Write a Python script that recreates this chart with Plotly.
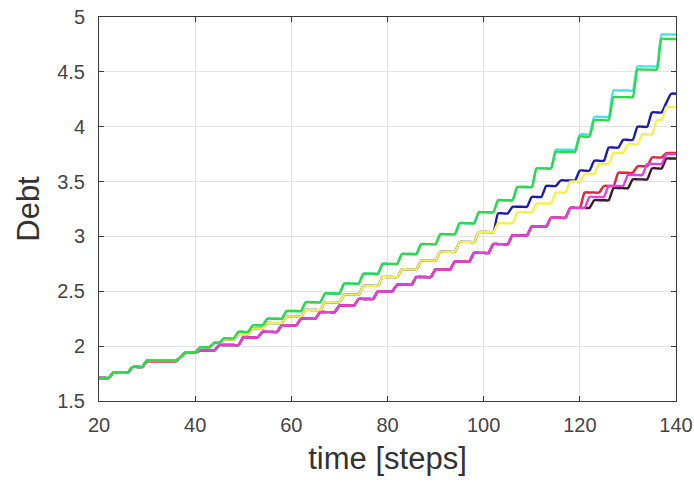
import plotly.graph_objects as go

time = list(range(20, 141))

green = [
    1.71, 1.71, 1.71, 1.76, 1.76, 1.76, 1.76, 1.81, 1.81, 1.81,
    1.87, 1.87, 1.87, 1.87, 1.87, 1.87, 1.87, 1.90, 1.94, 1.94,
    1.94, 1.99, 1.99, 1.99, 2.03, 2.03, 2.07, 2.07, 2.07, 2.13,
    2.13, 2.13, 2.19, 2.19, 2.19, 2.25, 2.25, 2.25, 2.25, 2.32,
    2.32, 2.32, 2.32, 2.40, 2.40, 2.40, 2.40, 2.48, 2.48, 2.48,
    2.48, 2.57, 2.57, 2.57, 2.57, 2.66, 2.66, 2.66, 2.66, 2.75,
    2.75, 2.75, 2.75, 2.84, 2.84, 2.84, 2.84, 2.93, 2.93, 2.93,
    2.93, 3.02, 3.02, 3.02, 3.02, 3.12, 3.12, 3.12, 3.12, 3.22,
    3.22, 3.22, 3.22, 3.33, 3.33, 3.33, 3.33, 3.45, 3.45, 3.45,
    3.45, 3.62, 3.62, 3.62, 3.62, 3.77, 3.77, 3.77, 3.77, 3.77,
    3.91, 3.91, 3.91, 4.06, 4.06, 4.06, 4.06, 4.27, 4.27, 4.27,
    4.27, 4.27, 4.52, 4.52, 4.52, 4.52, 4.52, 4.80, 4.80, 4.80,
    4.80,
]

cyan = [
    1.71, 1.71, 1.71, 1.76, 1.76, 1.76, 1.76, 1.81, 1.81, 1.81,
    1.87, 1.87, 1.87, 1.87, 1.87, 1.87, 1.87, 1.90, 1.94, 1.94,
    1.94, 1.99, 1.99, 1.99, 2.03, 2.03, 2.07, 2.07, 2.07, 2.13,
    2.13, 2.13, 2.19, 2.19, 2.19, 2.25, 2.25, 2.25, 2.25, 2.32,
    2.32, 2.32, 2.32, 2.40, 2.40, 2.40, 2.40, 2.48, 2.48, 2.48,
    2.48, 2.57, 2.57, 2.57, 2.57, 2.66, 2.66, 2.66, 2.66, 2.75,
    2.75, 2.75, 2.75, 2.84, 2.84, 2.84, 2.84, 2.93, 2.93, 2.93,
    2.93, 3.02, 3.02, 3.02, 3.02, 3.12, 3.12, 3.12, 3.12, 3.22,
    3.22, 3.22, 3.22, 3.33, 3.33, 3.33, 3.33, 3.45, 3.45, 3.45,
    3.45, 3.62, 3.62, 3.62, 3.62, 3.79, 3.79, 3.79, 3.79, 3.79,
    3.93, 3.93, 3.93, 4.09, 4.09, 4.09, 4.09, 4.33, 4.33, 4.33,
    4.33, 4.33, 4.55, 4.55, 4.55, 4.55, 4.55, 4.84, 4.84, 4.84,
    4.84,
]

yellow = [
    1.71, 1.71, 1.71, 1.76, 1.76, 1.76, 1.76, 1.81, 1.81, 1.81,
    1.87, 1.87, 1.87, 1.87, 1.87, 1.87, 1.87, 1.90, 1.94, 1.94,
    1.94, 1.99, 1.99, 1.99, 2.03, 2.03, 2.06, 2.06, 2.06, 2.11,
    2.11, 2.11, 2.16, 2.16, 2.16, 2.21, 2.21, 2.21, 2.21, 2.27,
    2.27, 2.27, 2.27, 2.33, 2.33, 2.33, 2.33, 2.40, 2.40, 2.40,
    2.40, 2.47, 2.47, 2.47, 2.47, 2.55, 2.55, 2.55, 2.55, 2.63,
    2.63, 2.63, 2.63, 2.70, 2.70, 2.70, 2.70, 2.78, 2.78, 2.78,
    2.78, 2.86, 2.86, 2.86, 2.86, 2.95, 2.95, 2.95, 2.95, 3.04,
    3.04, 3.04, 3.04, 3.12, 3.12, 3.12, 3.12, 3.22, 3.22, 3.22,
    3.22, 3.30, 3.30, 3.30, 3.30, 3.40, 3.40, 3.40, 3.50, 3.50,
    3.50, 3.57, 3.57, 3.57, 3.66, 3.66, 3.66, 3.76, 3.76, 3.76,
    3.84, 3.84, 3.84, 3.93, 3.93, 3.93, 4.06, 4.06, 4.18, 4.18,
    4.18,
]

blue = [
    1.71, 1.71, 1.71, 1.76, 1.76, 1.76, 1.76, 1.81, 1.81, 1.81,
    1.87, 1.87, 1.87, 1.87, 1.87, 1.87, 1.87, 1.90, 1.94, 1.94,
    1.94, 1.99, 1.99, 1.99, 2.03, 2.03, 2.06, 2.06, 2.06, 2.11,
    2.11, 2.11, 2.16, 2.16, 2.16, 2.21, 2.21, 2.21, 2.21, 2.27,
    2.27, 2.27, 2.27, 2.33, 2.33, 2.33, 2.33, 2.40, 2.40, 2.40,
    2.40, 2.47, 2.47, 2.47, 2.47, 2.55, 2.55, 2.55, 2.55, 2.63,
    2.63, 2.63, 2.63, 2.70, 2.70, 2.70, 2.70, 2.78, 2.78, 2.78,
    2.78, 2.86, 2.86, 2.86, 2.86, 2.95, 2.95, 2.95, 2.95, 3.04,
    3.04, 3.04, 3.04, 3.21, 3.21, 3.21, 3.27, 3.27, 3.27, 3.27,
    3.36, 3.36, 3.36, 3.46, 3.46, 3.46, 3.51, 3.51, 3.51, 3.51,
    3.60, 3.60, 3.60, 3.69, 3.69, 3.69, 3.81, 3.81, 3.81, 3.88,
    3.88, 3.88, 4.00, 4.00, 4.00, 4.13, 4.13, 4.13, 4.22, 4.30,
    4.30,
]

magenta = [
    1.71, 1.71, 1.71, 1.76, 1.76, 1.76, 1.76, 1.81, 1.81, 1.81,
    1.87, 1.87, 1.87, 1.87, 1.87, 1.87, 1.87, 1.90, 1.94, 1.94,
    1.94, 1.96, 1.96, 1.96, 1.96, 2.01, 2.01, 2.01, 2.01, 2.01,
    2.08, 2.08, 2.08, 2.08, 2.13, 2.13, 2.13, 2.13, 2.19, 2.19,
    2.19, 2.19, 2.25, 2.25, 2.25, 2.25, 2.31, 2.31, 2.31, 2.31,
    2.37, 2.37, 2.37, 2.37, 2.43, 2.43, 2.43, 2.43, 2.50, 2.50,
    2.50, 2.50, 2.56, 2.56, 2.56, 2.56, 2.63, 2.63, 2.63, 2.63,
    2.70, 2.70, 2.70, 2.70, 2.77, 2.77, 2.77, 2.77, 2.85, 2.85,
    2.85, 2.85, 2.93, 2.93, 2.93, 2.93, 3.01, 3.01, 3.01, 3.01,
    3.09, 3.09, 3.09, 3.09, 3.17, 3.17, 3.17, 3.17, 3.26, 3.26,
    3.26, 3.26, 3.36, 3.36, 3.36, 3.36, 3.46, 3.46, 3.46, 3.46,
    3.56, 3.56, 3.56, 3.56, 3.66, 3.66, 3.66, 3.66, 3.75, 3.75,
    3.75,
]

red = [
    1.71, 1.71, 1.71, 1.76, 1.76, 1.76, 1.76, 1.81, 1.81, 1.81,
    1.86, 1.86, 1.86, 1.86, 1.86, 1.86, 1.86, 1.90, 1.94, 1.94,
    1.94, 1.96, 1.96, 1.96, 1.96, 2.01, 2.01, 2.01, 2.01, 2.01,
    2.08, 2.08, 2.08, 2.08, 2.13, 2.13, 2.13, 2.13, 2.19, 2.19,
    2.19, 2.19, 2.25, 2.25, 2.25, 2.25, 2.31, 2.31, 2.31, 2.31,
    2.37, 2.37, 2.37, 2.37, 2.43, 2.43, 2.43, 2.43, 2.50, 2.50,
    2.50, 2.50, 2.56, 2.56, 2.56, 2.56, 2.63, 2.63, 2.63, 2.63,
    2.70, 2.70, 2.70, 2.70, 2.77, 2.77, 2.77, 2.77, 2.85, 2.85,
    2.85, 2.85, 2.93, 2.93, 2.93, 2.93, 3.01, 3.01, 3.01, 3.01,
    3.09, 3.09, 3.09, 3.09, 3.17, 3.17, 3.17, 3.17, 3.26, 3.26,
    3.26, 3.40, 3.40, 3.40, 3.40, 3.46, 3.46, 3.46, 3.58, 3.58,
    3.58, 3.58, 3.64, 3.64, 3.64, 3.72, 3.72, 3.72, 3.76, 3.76,
    3.76,
]

black = [
    1.71, 1.71, 1.71, 1.76, 1.76, 1.76, 1.76, 1.81, 1.81, 1.81,
    1.87, 1.87, 1.87, 1.87, 1.87, 1.87, 1.87, 1.90, 1.94, 1.94,
    1.94, 1.96, 1.96, 1.96, 1.96, 2.01, 2.01, 2.01, 2.01, 2.01,
    2.08, 2.08, 2.08, 2.08, 2.13, 2.13, 2.13, 2.13, 2.19, 2.19,
    2.19, 2.19, 2.25, 2.25, 2.25, 2.25, 2.31, 2.31, 2.31, 2.31,
    2.37, 2.37, 2.37, 2.37, 2.43, 2.43, 2.43, 2.43, 2.50, 2.50,
    2.50, 2.50, 2.56, 2.56, 2.56, 2.56, 2.63, 2.63, 2.63, 2.63,
    2.70, 2.70, 2.70, 2.70, 2.77, 2.77, 2.77, 2.77, 2.85, 2.85,
    2.85, 2.85, 2.93, 2.93, 2.93, 2.93, 3.01, 3.01, 3.01, 3.01,
    3.09, 3.09, 3.09, 3.09, 3.17, 3.17, 3.17, 3.17, 3.26, 3.26,
    3.26, 3.26, 3.26, 3.33, 3.33, 3.33, 3.33, 3.44, 3.44, 3.44,
    3.44, 3.52, 3.52, 3.52, 3.52, 3.62, 3.62, 3.62, 3.71, 3.71,
    3.71,
]

x_ticks = [20, 40, 60, 80, 100, 120, 140]
y_ticks = [1.5, 2, 2.5, 3, 3.5, 4, 4.5, 5]
y_tick_labels = ["1.5", "2", "2.5", "3", "3.5", "4", "4.5", "5"]

series = [
    ("black", black, "#3a1a2a"),
    ("red", red, "#e8203a"),
    ("magenta", magenta, "#e040e0"),
    ("cyan", cyan, "#3fe8e8"),
    ("blue", blue, "#1c1ca8"),
    ("yellow", yellow, "#f4f050"),
    ("green", green, "#2ed84a"),
]

fig = go.Figure()
for name, vals, col in series:
    fig.add_trace(go.Scatter(x=time, y=vals, mode="lines", name=name,
                             line=dict(color=col, width=2.4, shape="spline", smoothing=0.6)))

axis_common = dict(
    showgrid=True, gridcolor="#e3e3e3", gridwidth=1,
    showline=True, linecolor="#3a3a3a", linewidth=1,
    mirror="ticks", ticks="inside", ticklen=5, tickcolor="#3a3a3a",
    zeroline=False, automargin=False,
    tickfont=dict(family="Liberation Sans, Arial, sans-serif", size=20, color="#444444"),
)

fig.update_layout(
    width=694, height=483,
    margin=dict(l=99, r=18, t=17, b=82, autoexpand=False),
    paper_bgcolor="white", plot_bgcolor="white",
    showlegend=False,
    font=dict(family="Liberation Sans, Arial, sans-serif", color="#333333"),
)
fig.update_xaxes(range=[20, 140], tickvals=x_ticks, ticklabelstandoff=6,
                 title=dict(text="time [steps]", font=dict(size=31, color="#333333"), standoff=12),
                 **axis_common)
fig.update_yaxes(range=[1.5, 5], tickvals=y_ticks, ticktext=y_tick_labels, ticklabelstandoff=9,
                 title=dict(text="Debt", font=dict(size=31, color="#333333"), standoff=8),
                 **axis_common)

fig.write_html("out.html")
